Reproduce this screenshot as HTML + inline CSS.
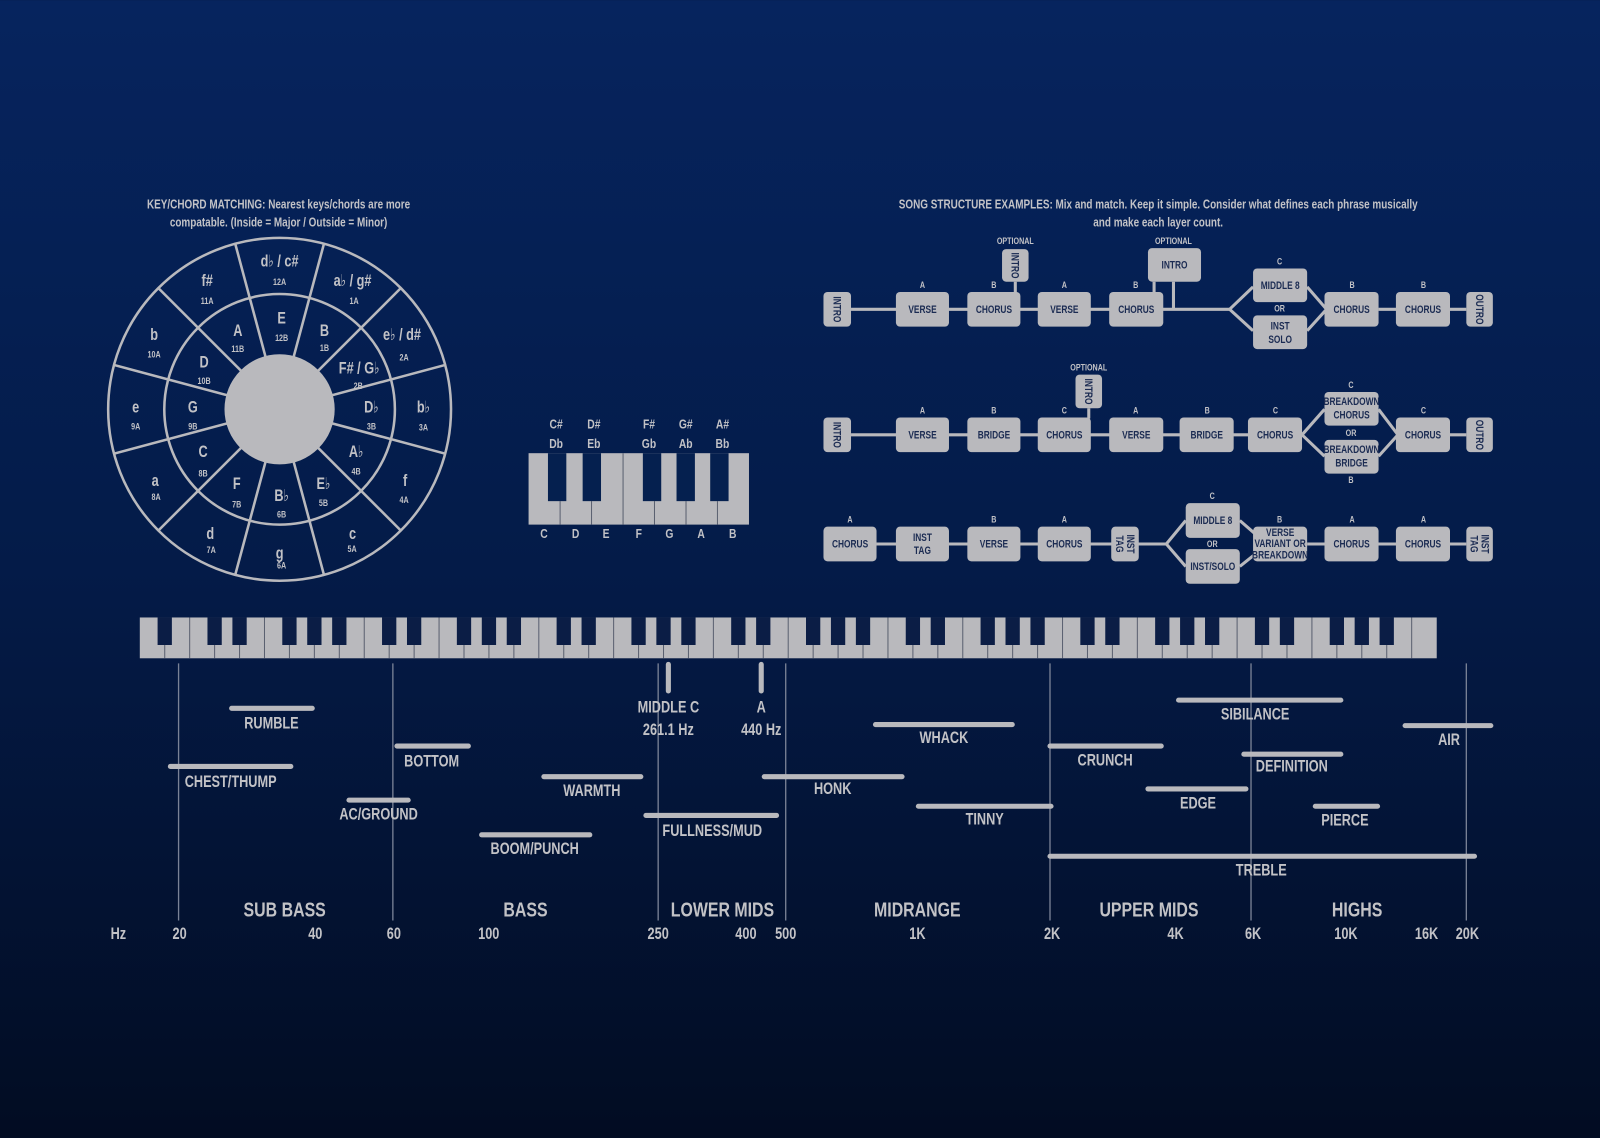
<!DOCTYPE html>
<html><head><meta charset="utf-8"><style>
html,body{margin:0;padding:0;width:1600px;height:1138px;overflow:hidden;background:#031433}
svg{display:block}
text{font-family:"Liberation Sans","DejaVu Sans Condensed",sans-serif;font-weight:bold;transform-box:fill-box;transform-origin:center;transform:scaleX(.78)}
.l{fill:#c2c2c6;text-anchor:middle}
.b{fill:#1b2b52;text-anchor:middle;font-size:10.5px}
.bx{fill:#b9b9bd}
.ln{stroke:#b9b9bd;stroke-width:3;fill:none}
.bar{stroke:#b9b9bd;stroke-width:5;stroke-linecap:round}
.vl{stroke:#7a8296;stroke-width:1.3}
</style></head><body>
<svg width="1600" height="1138" viewBox="0 0 1568 1115" xmlns="http://www.w3.org/2000/svg">
<defs>
<linearGradient id="bg" x1="0" y1="0" x2="0" y2="1">
<stop offset="0" stop-color="#06245e"/><stop offset="0.5" stop-color="#041b48"/><stop offset="1" stop-color="#020c22"/>
</linearGradient>
</defs>
<rect width="1568" height="1115" fill="url(#bg)"/>

<!-- Titles -->
<text class="l" x="273" y="204" font-size="12.5">KEY/CHORD MATCHING: Nearest keys/chords are more</text>
<text class="l" x="273" y="222" font-size="12.5">compatable. (Inside = Major / Outside = Minor)</text>
<text class="l" x="1135" y="204" font-size="12.5">SONG STRUCTURE EXAMPLES: Mix and match. Keep it simple. Consider what defines each phrase musically</text>
<text class="l" x="1135" y="222" font-size="12.5">and make each layer count.</text>

<!-- Circle of fifths -->
<g stroke="#b9b9bd" stroke-width="2.5" fill="none">
<circle cx="274" cy="401" r="168"/>
<circle cx="274" cy="401" r="113"/>
<line x1="274" y1="232" x2="274" y2="570" transform="rotate(15 274 401)"/>
<line x1="274" y1="232" x2="274" y2="570" transform="rotate(45 274 401)"/>
<line x1="274" y1="232" x2="274" y2="570" transform="rotate(75 274 401)"/>
<line x1="274" y1="232" x2="274" y2="570" transform="rotate(105 274 401)"/>
<line x1="274" y1="232" x2="274" y2="570" transform="rotate(135 274 401)"/>
<line x1="274" y1="232" x2="274" y2="570" transform="rotate(165 274 401)"/>
</g>
<circle cx="274" cy="401" r="54" fill="#b9b9bd"/>
<g class="l" font-size="16">
<text x="274" y="261">d♭ / c#</text><text x="345.5" y="280">a♭ / g#</text><text x="394" y="333">e♭ / d#</text><text x="415" y="404">b♭</text><text x="397" y="476">f</text><text x="345.5" y="528">c</text><text x="274" y="547">g</text><text x="206" y="528">d</text><text x="152" y="476">a</text><text x="133" y="404">e</text><text x="151" y="333">b</text><text x="203" y="280">f#</text>
<text x="276" y="317">E</text><text x="318" y="329">B</text><text x="352" y="366">F# / G♭</text><text x="364" y="404">D♭</text><text x="349" y="448">A♭</text><text x="317" y="479">E♭</text><text x="276" y="491">B♭</text><text x="232" y="479">F</text><text x="199" y="448">C</text><text x="189" y="404">G</text><text x="200" y="360">D</text><text x="233" y="329">A</text>
</g>
<g class="l" font-size="9">
<text x="274" y="279">12A</text><text x="347" y="298">1A</text><text x="396" y="353">2A</text><text x="415" y="422">3A</text><text x="396" y="493">4A</text><text x="345" y="541">5A</text><text x="276" y="557">6A</text><text x="207" y="542">7A</text><text x="153" y="490">8A</text><text x="133" y="421">9A</text><text x="151" y="350">10A</text><text x="203" y="298">11A</text>
<text x="276" y="334">12B</text><text x="318" y="344">1B</text><text x="351" y="381">2B</text><text x="364" y="421">3B</text><text x="349" y="465">4B</text><text x="317" y="496">5B</text><text x="276" y="507">6B</text><text x="232" y="497">7B</text><text x="199" y="467">8B</text><text x="189" y="421">9B</text><text x="200" y="376">10B</text><text x="233" y="345">11B</text>
</g>

<!-- Small keyboard -->
<rect x="518" y="444" width="216" height="70" fill="#b9b9bd"/>
<g stroke="#5a6070" stroke-width="1">
<line x1="548.9" y1="491" x2="548.9" y2="514"/><line x1="579.7" y1="491" x2="579.7" y2="514"/><line x1="610.6" y1="444" x2="610.6" y2="514"/><line x1="641.4" y1="491" x2="641.4" y2="514"/><line x1="672.3" y1="491" x2="672.3" y2="514"/><line x1="703.1" y1="491" x2="703.1" y2="514"/></g>
<g fill="#05204f">
<rect x="537" y="444" width="18" height="47"/><rect x="571" y="444" width="18" height="47"/><rect x="630" y="444" width="18" height="47"/><rect x="663" y="444" width="18" height="47"/><rect x="696" y="444" width="18" height="47"/>
</g>
<g class="l" font-size="13">
<text x="545" y="420">C#</text><text x="545" y="439">Db</text><text x="582" y="420">D#</text><text x="582" y="439">Eb</text><text x="636" y="420">F#</text><text x="636" y="439">Gb</text><text x="672" y="420">G#</text><text x="672" y="439">Ab</text><text x="708" y="420">A#</text><text x="708" y="439">Bb</text>
<text x="533" y="527">C</text><text x="564" y="527">D</text><text x="594" y="527">E</text><text x="626" y="527">F</text><text x="656" y="527">G</text><text x="687" y="527">A</text><text x="718" y="527">B</text>
</g>

<!-- Song structure row 1 -->
<g class="ln">
<line x1="834" y1="303" x2="1205" y2="303"/><polyline points="1205,303 1228,281"/><polyline points="1205,303 1228,324"/>
<polyline points="1281,281 1300,303"/><polyline points="1281,324 1300,303"/><line x1="1351" y1="303" x2="1437" y2="303"/>
<line x1="995" y1="276" x2="995" y2="287"/><line x1="1131" y1="276" x2="1131" y2="287"/><line x1="1150" y1="276" x2="1150" y2="303"/>
</g>
<rect class="bx" x="807" y="286" width="27" height="34" rx="4"/><g transform="translate(820.5 303) rotate(90)"><text class="b" y="3.5">INTRO</text></g>
<rect class="bx" x="878" y="286" width="52" height="34" rx="4"/><text class="b" x="904" y="306.5">VERSE</text>
<rect class="bx" x="948" y="286" width="52" height="34" rx="4"/><text class="b" x="974" y="306.5">CHORUS</text>
<rect class="bx" x="982" y="244" width="26" height="32" rx="4"/><g transform="translate(995 260) rotate(90)"><text class="b" y="3.5">INTRO</text></g>
<rect class="bx" x="1017" y="286" width="52" height="34" rx="4"/><text class="b" x="1043" y="306.5">VERSE</text>
<rect class="bx" x="1087" y="286" width="53" height="34" rx="4"/><text class="b" x="1113.5" y="306.5">CHORUS</text>
<rect class="bx" x="1125" y="243" width="52" height="33" rx="4"/><text class="b" x="1151" y="263">INTRO</text>
<rect class="bx" x="1228" y="263" width="53" height="33" rx="4"/><text class="b" x="1254.5" y="283">MIDDLE 8</text>
<rect class="bx" x="1228" y="309" width="53" height="33" rx="4"/><text class="b" x="1254.5" y="323">INST</text><text class="b" x="1254.5" y="336">SOLO</text>
<rect class="bx" x="1298" y="286" width="53" height="34" rx="4"/><text class="b" x="1324.5" y="306.5">CHORUS</text>
<rect class="bx" x="1368" y="286" width="53" height="34" rx="4"/><text class="b" x="1394.5" y="306.5">CHORUS</text>
<rect class="bx" x="1437" y="286" width="26" height="34" rx="4"/><g transform="translate(1450 303) rotate(90)"><text class="b" y="3.5">OUTRO</text></g>
<g class="l" font-size="9">
<text x="995" y="239">OPTIONAL</text><text x="1150" y="239">OPTIONAL</text>
<text x="904" y="282">A</text><text x="974" y="282">B</text><text x="1043" y="282">A</text><text x="1113" y="282">B</text><text x="1254" y="259">C</text><text x="1254" y="305">OR</text><text x="1325" y="282">B</text><text x="1395" y="282">B</text>
</g>

<!-- Row 2 -->
<g class="ln">
<line x1="834" y1="426" x2="1276" y2="426"/><polyline points="1276,426 1298,401"/><polyline points="1276,426 1298,447"/>
<polyline points="1351,401 1370,426"/><polyline points="1351,447 1370,426"/><line x1="1421" y1="426" x2="1437" y2="426"/>
<line x1="1067" y1="400" x2="1067" y2="410"/>
</g>
<rect class="bx" x="807" y="409" width="27" height="34" rx="4"/><g transform="translate(820.5 426) rotate(90)"><text class="b" y="3.5">INTRO</text></g>
<rect class="bx" x="878" y="409" width="52" height="34" rx="4"/><text class="b" x="904" y="429.5">VERSE</text>
<rect class="bx" x="948" y="409" width="52" height="34" rx="4"/><text class="b" x="974" y="429.5">BRIDGE</text>
<rect class="bx" x="1017" y="409" width="52" height="34" rx="4"/><text class="b" x="1043" y="429.5">CHORUS</text>
<rect class="bx" x="1054" y="367" width="26" height="33" rx="4"/><g transform="translate(1067 383.5) rotate(90)"><text class="b" y="3.5">INTRO</text></g>
<rect class="bx" x="1087" y="409" width="53" height="34" rx="4"/><text class="b" x="1113.5" y="429.5">VERSE</text>
<rect class="bx" x="1156" y="409" width="53" height="34" rx="4"/><text class="b" x="1182.5" y="429.5">BRIDGE</text>
<rect class="bx" x="1223" y="409" width="53" height="34" rx="4"/><text class="b" x="1249.5" y="429.5">CHORUS</text>
<rect class="bx" x="1298" y="384" width="53" height="33" rx="4"/><text class="b" x="1324.5" y="397">BREAKDOWN</text><text class="b" x="1324.5" y="410">CHORUS</text>
<rect class="bx" x="1298" y="431" width="53" height="33" rx="4"/><text class="b" x="1324.5" y="444">BREAKDOWN</text><text class="b" x="1324.5" y="457">BRIDGE</text>
<rect class="bx" x="1368" y="409" width="53" height="34" rx="4"/><text class="b" x="1394.5" y="429.5">CHORUS</text>
<rect class="bx" x="1437" y="409" width="26" height="34" rx="4"/><g transform="translate(1450 426) rotate(90)"><text class="b" y="3.5">OUTRO</text></g>
<g class="l" font-size="9">
<text x="1067" y="363">OPTIONAL</text>
<text x="904" y="405">A</text><text x="974" y="405">B</text><text x="1043" y="405">C</text><text x="1113" y="405">A</text><text x="1183" y="405">B</text><text x="1250" y="405">C</text><text x="1324" y="380">C</text><text x="1324" y="427">OR</text><text x="1324" y="473">B</text><text x="1395" y="405">C</text>
</g>

<!-- Row 3 -->
<g class="ln">
<line x1="859" y1="533" x2="1143" y2="533"/><polyline points="1143,533 1162,510"/><polyline points="1143,533 1162,555"/>
<polyline points="1215,510 1230,523"/><polyline points="1215,555 1230,543"/><line x1="1281" y1="533" x2="1437" y2="533"/>
</g>
<rect class="bx" x="807" y="516" width="52" height="34" rx="4"/><text class="b" x="833" y="536.5">CHORUS</text>
<rect class="bx" x="878" y="516" width="52" height="34" rx="4"/><text class="b" x="904" y="530">INST</text><text class="b" x="904" y="543">TAG</text>
<rect class="bx" x="948" y="516" width="52" height="34" rx="4"/><text class="b" x="974" y="536.5">VERSE</text>
<rect class="bx" x="1017" y="516" width="52" height="34" rx="4"/><text class="b" x="1043" y="536.5">CHORUS</text>
<rect class="bx" x="1089" y="516" width="27" height="34" rx="4"/><g transform="translate(1102.5 533) rotate(90)"><text class="b" y="-2">INST</text><text class="b" y="9">TAG</text></g>
<rect class="bx" x="1162" y="493" width="53" height="34" rx="4"/><text class="b" x="1188.5" y="513.5">MIDDLE 8</text>
<rect class="bx" x="1162" y="538" width="53" height="34" rx="4"/><text class="b" x="1188.5" y="558.5">INST/SOLO</text>
<rect class="bx" x="1228" y="516" width="53" height="34" rx="4"/><text class="b" x="1254.5" y="525">VERSE</text><text class="b" x="1254.5" y="536">VARIANT OR</text><text class="b" x="1254.5" y="547">BREAKDOWN</text>
<rect class="bx" x="1298" y="516" width="53" height="34" rx="4"/><text class="b" x="1324.5" y="536.5">CHORUS</text>
<rect class="bx" x="1368" y="516" width="53" height="34" rx="4"/><text class="b" x="1394.5" y="536.5">CHORUS</text>
<rect class="bx" x="1437" y="516" width="26" height="34" rx="4"/><g transform="translate(1450 533) rotate(90)"><text class="b" y="-2">INST</text><text class="b" y="9">TAG</text></g>
<g class="l" font-size="9">
<text x="833" y="512">A</text><text x="974" y="512">B</text><text x="1043" y="512">A</text><text x="1188" y="489">C</text><text x="1188" y="536">OR</text><text x="1254" y="512">B</text><text x="1325" y="512">A</text><text x="1395" y="512">A</text>
</g>

<!-- Big keyboard -->
<rect x="137" y="605" width="1271" height="40" fill="#b9b9bd"/>
<line x1="160.94" y1="625" x2="1400" y2="625" stroke="#5a6070" stroke-width="40" stroke-dasharray="1 23.44"/>
<line x1="154.44" y1="618.5" x2="1400" y2="618.5" stroke="#0b1d45" stroke-width="27" stroke-dasharray="14 34.88 14 10.44 14 34.88 14 10.44 14 10.44"/>

<!-- Frequency chart -->
<g class="vl">
<line x1="175" y1="650" x2="175" y2="902"/><line x1="385" y1="650" x2="385" y2="902"/><line x1="645" y1="650" x2="645" y2="902"/><line x1="770" y1="650" x2="770" y2="902"/><line x1="1029" y1="650" x2="1029" y2="902"/><line x1="1226" y1="650" x2="1226" y2="902"/><line x1="1437" y1="650" x2="1437" y2="902"/>
</g>
<g class="bar">
<line x1="655" y1="651" x2="655" y2="677"/><line x1="746" y1="651" x2="746" y2="677"/>
<line x1="227" y1="694" x2="306" y2="694"/><line x1="167" y1="751" x2="285" y2="751"/><line x1="389" y1="731" x2="459" y2="731"/><line x1="342" y1="784" x2="400" y2="784"/>
<line x1="533" y1="761" x2="628" y2="761"/><line x1="472" y1="818" x2="578" y2="818"/><line x1="633" y1="799" x2="761" y2="799"/><line x1="749" y1="761" x2="884" y2="761"/>
<line x1="858" y1="710" x2="992" y2="710"/><line x1="900" y1="790" x2="1030" y2="790"/><line x1="1029" y1="731" x2="1138" y2="731"/><line x1="1155" y1="686" x2="1314" y2="686"/>
<line x1="1125" y1="773" x2="1221" y2="773"/><line x1="1219" y1="739" x2="1314" y2="739"/><line x1="1289" y1="790" x2="1350" y2="790"/><line x1="1377" y1="711" x2="1461" y2="711"/>
<line x1="1029" y1="839" x2="1445" y2="839"/>
</g>
<g class="l" font-size="16">
<text x="655" y="698">MIDDLE C</text><text x="655" y="720">261.1 Hz</text><text x="746" y="698">A</text><text x="746" y="720">440 Hz</text>
<text x="266" y="714">RUMBLE</text><text x="226" y="771">CHEST/THUMP</text><text x="423" y="751">BOTTOM</text><text x="371" y="803">AC/GROUND</text>
<text x="580" y="780">WARMTH</text><text x="524" y="837">BOOM/PUNCH</text><text x="698" y="819">FULLNESS/MUD</text><text x="816" y="778">HONK</text>
<text x="925" y="728">WHACK</text><text x="965" y="808">TINNY</text><text x="1083" y="750">CRUNCH</text><text x="1230" y="705">SIBILANCE</text>
<text x="1174" y="792">EDGE</text><text x="1266" y="756">DEFINITION</text><text x="1318" y="809">PIERCE</text><text x="1420" y="730">AIR</text><text x="1236" y="858">TREBLE</text>
</g>
<g class="l" font-size="20">
<text x="279" y="898">SUB BASS</text><text x="515" y="898">BASS</text><text x="708" y="898">LOWER MIDS</text><text x="899" y="898">MIDRANGE</text><text x="1126" y="898">UPPER MIDS</text><text x="1330" y="898">HIGHS</text>
</g>
<g class="l" font-size="16">
<text x="116" y="920">Hz</text><text x="176" y="920">20</text><text x="309" y="920">40</text><text x="386" y="920">60</text><text x="479" y="920">100</text><text x="645" y="920">250</text><text x="731" y="920">400</text><text x="770" y="920">500</text><text x="899" y="920">1K</text><text x="1031" y="920">2K</text><text x="1152" y="920">4K</text><text x="1228" y="920">6K</text><text x="1319" y="920">10K</text><text x="1398" y="920">16K</text><text x="1438" y="920">20K</text>
</g>
</svg>
</body></html>
